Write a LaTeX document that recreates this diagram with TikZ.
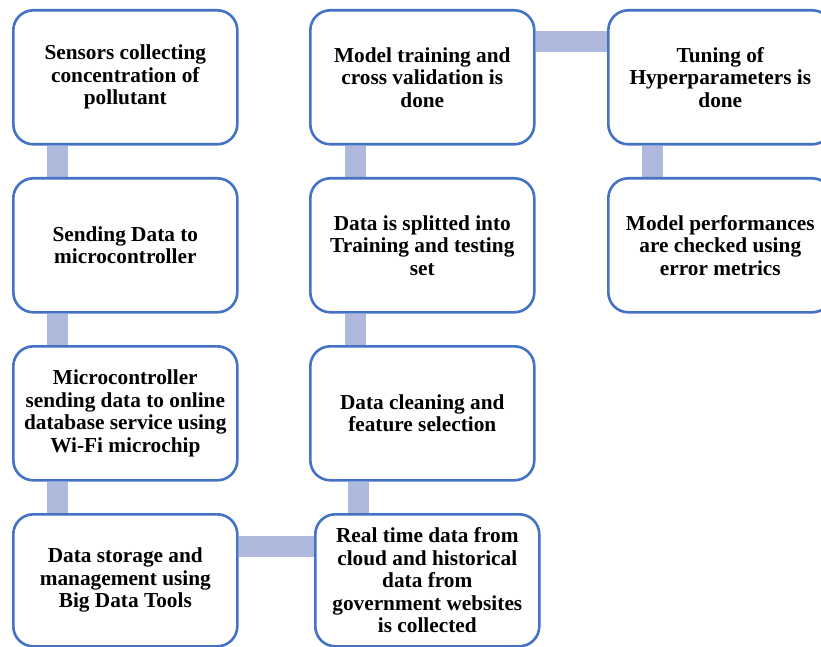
\documentclass[tikz,border=0pt]{standalone}
\usepackage{fontspec}
\setmainfont{Liberation Serif}
\usetikzlibrary{backgrounds}
\definecolor{boxblue}{RGB}{68,114,196}
\definecolor{connblue}{RGB}{174,185,221}
\begin{document}
\begin{tikzpicture}[x=1pt,y=1pt,
  stepbox/.style={draw=boxblue, line width=2.6pt, rounded corners=20pt, fill=white,
    minimum width=224pt, minimum height=134pt, anchor=north west, align=center,
    font=\fontsize{21.3}{22.5}\selectfont\bfseries, inner sep=0pt},
  conn/.style={draw=connblue, line width=21pt}]
\useasboundingbox (0,0) rectangle (821,646);
\clip (0,0) rectangle (821,646);
% column 1
\node[stepbox] (a1) at (12,637) {Sensors collecting\\concentration of\\pollutant};
\node[stepbox] (a2) at (12,469) {Sending Data to\\microcontroller};
\node[stepbox] (a3) at (12,301) {Microcontroller\\sending data to online\\database service using\\Wi-Fi microchip};
\node[stepbox, minimum height=132pt] (a4) at (12,133) {Data storage and\\management using\\Big Data Tools};
% column 2
\node[stepbox] (b1) at (309,637) {Model training and\\cross validation is\\done};
\node[stepbox] (b2) at (309,469) {Data is splitted into\\Training and testing\\set};
\node[stepbox] (b3) at (309,301) {Data cleaning and\\feature selection};
\node[stepbox, minimum height=132pt] (b4) at (314,133) {Real time data from\\cloud and historical\\data from\\government websites\\is collected};
% column 3
\node[stepbox] (c1) at (607,637) {Tuning of\\Hyperparameters is\\done};
\node[stepbox] (c2) at (607,469) {Model performances\\are checked using\\error metrics};
% connectors (behind boxes)
\begin{scope}[on background layer]
\draw[conn] ([xshift=45.5pt]a1.south west) -- ([xshift=45.5pt]a2.north west);
\draw[conn] ([xshift=45.5pt]a2.south west) -- ([xshift=45.5pt]a3.north west);
\draw[conn] ([xshift=45.5pt]a3.south west) -- ([xshift=45.5pt]a4.north west);
\draw[conn] ([yshift=-33pt]a4.north east) -- ([yshift=-33pt]b4.north west);
\draw[conn] ([xshift=44pt]b4.north west) -- ([xshift=49pt]b3.south west);
\draw[conn] ([xshift=46.5pt]b3.north west) -- ([xshift=46.5pt]b2.south west);
\draw[conn] ([xshift=46.5pt]b2.north west) -- ([xshift=46.5pt]b1.south west);
\draw[conn] ([yshift=-33pt]b1.north east) -- ([yshift=-33pt]c1.north west);
\draw[conn] ([xshift=45.5pt]c1.south west) -- ([xshift=45.5pt]c2.north west);
\end{scope}
\end{tikzpicture}
\end{document}
